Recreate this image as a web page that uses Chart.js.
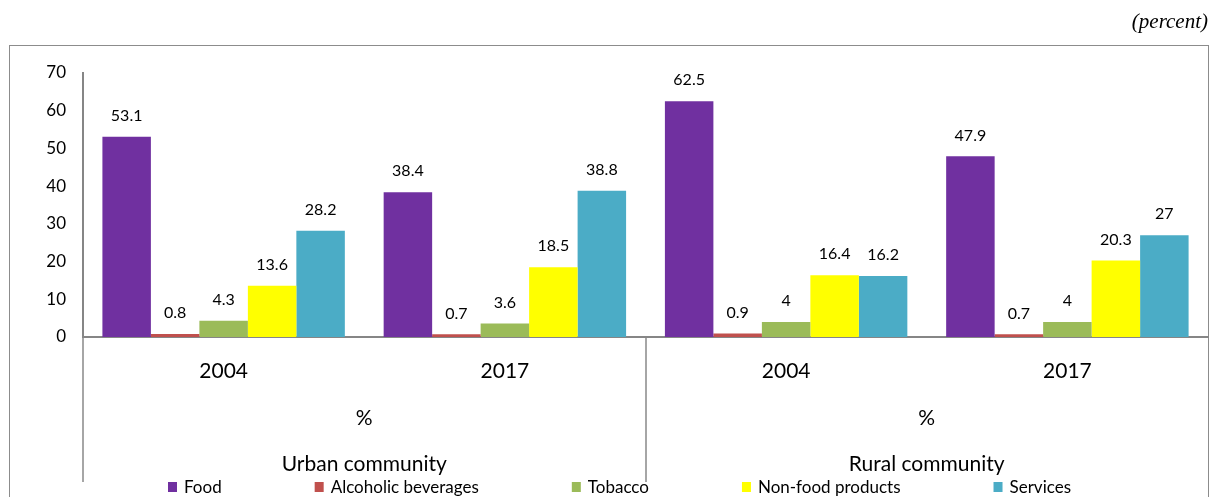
<!DOCTYPE html>
<html><head><meta charset="utf-8">
<script src="https://cdn.jsdelivr.net/npm/chart.js@4.4.1/dist/chart.umd.min.js"></script>
<style>html,body{margin:0;padding:0;background:#fff;} #wrap{width:1212px;height:497px;position:relative;}</style>
</head><body><div id="wrap"><canvas id="c"></canvas></div>
<script>
// ---- data ----
const years = ["2004", "2017", "2004", "2017"];
const unitLabels = ["%", "%"];
const communities = ["Urban community", "Rural community"];
const seriesNames = ["Food", "Alcoholic beverages", "Tobacco", "Non-food products", "Services"];
const food = [53.1, 38.4, 62.5, 47.9];
const alcohol = [0.8, 0.7, 0.9, 0.7];
const tobacco = [4.3, 3.6, 4, 4];
const nonFood = [13.6, 18.5, 16.4, 20.3];
const services = [28.2, 38.8, 16.2, 27];
const yTicks = [0, 10, 20, 30, 40, 50, 60, 70];
const unitNote = "(percent)";

const seriesValues = [food, alcohol, tobacco, nonFood, services];
const seriesColors = ["#7030A0", "#C0504D", "#9BBB59", "#FFFF00", "#4BACC6"];
const FONT = "Lato";

const framePlugin = {
  id: "frame",
  beforeDraw(chart) {
    const ctx = chart.ctx;
    ctx.save();
    ctx.strokeStyle = "#8c8c8c";
    ctx.lineWidth = 1;
    ctx.strokeRect(9.5, 45.5, 1199, 480);
    ctx.restore();
  }
};

const separatorPlugin = {
  id: "separators",
  afterDraw(chart) {
    const s = chart.scales.x3;
    const ctx = chart.ctx;
    const bottom = chart.chartArea.bottom;
    const xs = [s.left, (s.getPixelForValue(0) + s.getPixelForValue(1)) / 2];
    ctx.save();
    ctx.strokeStyle = "#a6a6a6";
    ctx.lineWidth = 2;
    xs.forEach((x) => {
      ctx.beginPath();
      ctx.moveTo(Math.round(x), bottom + 1);
      ctx.lineTo(Math.round(x), s.bottom);
      ctx.stroke();
    });
    ctx.restore();
  }
};

const valueLabelPlugin = {
  id: "valueLabels",
  afterDatasetsDraw(chart) {
    const ctx = chart.ctx;
    ctx.save();
    ctx.font = "16px " + FONT;
    ctx.fillStyle = "#000";
    ctx.textAlign = "center";
    ctx.textBaseline = "middle";
    chart.data.datasets.forEach((ds, di) => {
      const meta = chart.getDatasetMeta(di);
      meta.data.forEach((bar, i) => {
        ctx.fillText(String(ds.data[i]), bar.x, bar.y - 21);
      });
    });
    ctx.restore();
  }
};

const legendPlugin = {
  id: "customLegend",
  afterDraw(chart) {
    const ctx = chart.ctx;
    const s = chart.scales.x3;
    const yc = s.bottom + 6;
    let x = 168;
    const gap = 93;
    ctx.save();
    ctx.font = "17px " + FONT;
    ctx.textBaseline = "middle";
    ctx.textAlign = "left";
    chart.data.datasets.forEach((ds) => {
      ctx.fillStyle = ds.backgroundColor;
      ctx.fillRect(x, yc - 6, 9, 10);
      ctx.fillStyle = "#000";
      ctx.fillText(ds.label, x + 16, yc);
      x += 16 + ctx.measureText(ds.label).width + gap;
    });
    ctx.restore();
  }
};

new Chart(document.getElementById("c"), {
  type: "bar",
  data: {
    labels: years,
    datasets: seriesNames.map((n, i) => ({
      label: n,
      data: seriesValues[i],
      backgroundColor: seriesColors[i],
      borderWidth: 0,
      categoryPercentage: 0.862,
      barPercentage: 1.0
    }))
  },
  options: {
    responsive: true,
    maintainAspectRatio: false,
    animation: false,
    layout: { padding: { left: 10, right: 4, top: 0, bottom: 15 } },
    plugins: {
      legend: { display: false },
      tooltip: { enabled: false },
      title: {
        display: true,
        text: unitNote,
        align: "end",
        color: "#000",
        font: { family: "Liberation Serif", size: 21, style: "italic", weight: "normal" },
        padding: { top: 10, bottom: 37.8 }
      }
    },
    scales: {
      y: {
        min: 0, max: 70,
        afterBuildTicks: (s) => { s.ticks = yTicks.map(v => ({ value: v })); },
        afterFit: (s) => { s.width = 73; },
        grid: { display: false, drawTicks: false },
        border: { display: true, color: "#868686", width: 2 },
        ticks: { color: "#000", font: { family: FONT, size: 17 }, padding: 17 }
      },
      x: {
        position: "bottom",
        weight: 0,
        offset: true,
        afterFit: (s) => { s.height = 60; },
        grid: { display: false, drawTicks: false },
        border: { display: true, color: "#868686", width: 2 },
        ticks: { color: "#000", font: { family: FONT, size: 21 }, padding: 22, maxRotation: 0, autoSkip: false }
      },
      x2: {
        type: "category",
        labels: unitLabels,
        position: "bottom",
        weight: 1,
        offset: true,
        afterFit: (s) => { s.height = 45; },
        grid: { display: false, drawTicks: false },
        border: { display: false },
        ticks: { color: "#000", font: { family: FONT, size: 21 }, padding: 9, maxRotation: 0, autoSkip: false }
      },
      x3: {
        type: "category",
        labels: communities,
        position: "bottom",
        weight: 2,
        offset: true,
        afterFit: (s) => { s.height = 40; },
        grid: { display: false, drawTicks: false },
        border: { display: false },
        ticks: { color: "#000", font: { family: FONT, size: 21 }, padding: 10, maxRotation: 0, autoSkip: false }
      }
    }
  },
  plugins: [framePlugin, separatorPlugin, valueLabelPlugin, legendPlugin]
});
</script>
</body></html>
